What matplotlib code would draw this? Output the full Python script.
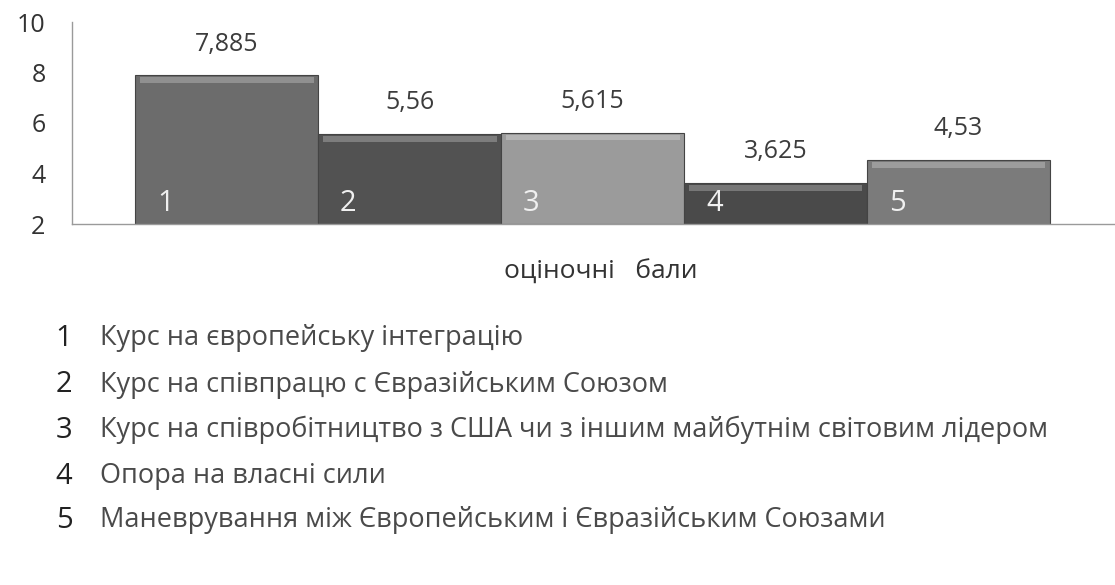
import numpy as np
import matplotlib.pyplot as plt

# дані діаграми
номери = ['1', '2', '3', '4', '5']
бали = [7.885, 5.56, 5.615, 3.625, 4.53]
підписи = ['7,885', '5,56', '5,615', '3,625', '4,53']
кольори = ['#6c6c6c', '#525252', '#9b9b9b', '#4a4a4a', '#7b7b7b']
легенда = [
    'Курс на європейську інтеграцію',
    'Курс на співпрацю с Євразійським Союзом',
    'Курс на співробітництво з США чи з іншим майбутнім світовим лідером',
    'Опора на власні сили',
    'Маневрування між Європейським і Євразійським Союзами',
]
низ = 2

plt.rcParams['font.family'] = ['Open Sans', 'DejaVu Sans']

fig = plt.figure(figsize=(11.15, 5.85), dpi=100)
ax = fig.add_axes([72 / 1115, 1 - 224 / 585, 1 - 72 / 1115, 202 / 585])

x = np.arange(len(бали))
висоти = np.array(бали) - низ
ax.bar(x, висоти, bottom=низ, width=1.0, color=кольори,
       edgecolor='#444444', linewidth=0.8, zorder=2)
# світла смуга-фаска зверху кожного стовпця
ax.bar(x, [0.22] * len(x), bottom=np.array(бали) - 0.3, width=0.95,
       color='white', alpha=0.25, linewidth=0, zorder=3)

for i, v in enumerate(бали):
    ax.annotate(підписи[i], (x[i], v), xytext=(0, 22.5), textcoords='offset points',
                ha='center', va='center', fontsize=18, color='#3c3c3c')
    ax.text(x[i] - 0.335, низ + 0.83, номери[i], ha='center', va='center',
            fontsize=21, color='#f0f0f0', zorder=4)

ax.set_xlim(-0.845, 4.855)
ax.set_ylim(2, 10)
ax.set_yticks([2, 4, 6, 8, 10])
ax.set_xticks([])
ax.tick_params(axis='y', length=0, labelsize=18, labelcolor='#333333', pad=19)
for s in ['top', 'right']:
    ax.spines[s].set_visible(False)
for s in ['left', 'bottom']:
    ax.spines[s].set_color('#9a9a9a')
    ax.spines[s].set_linewidth(1)

fig.text(601 / 1115, 1 - 272 / 585, 'оціночні   бали', ha='center', va='center',
         fontsize=19, color='#333333')

рядки_y = [338, 385, 430, 476, 520]
for i, t in enumerate(легенда):
    fig.text(64 / 1115, 1 - рядки_y[i] / 585, номери[i], ha='center', va='center',
             fontsize=21, color='#222222')
    fig.text(100 / 1115, 1 - рядки_y[i] / 585, t, ha='left', va='center',
             fontsize=19.5, color='#4a4a4a')

fig.savefig('out.png', dpi=100)
